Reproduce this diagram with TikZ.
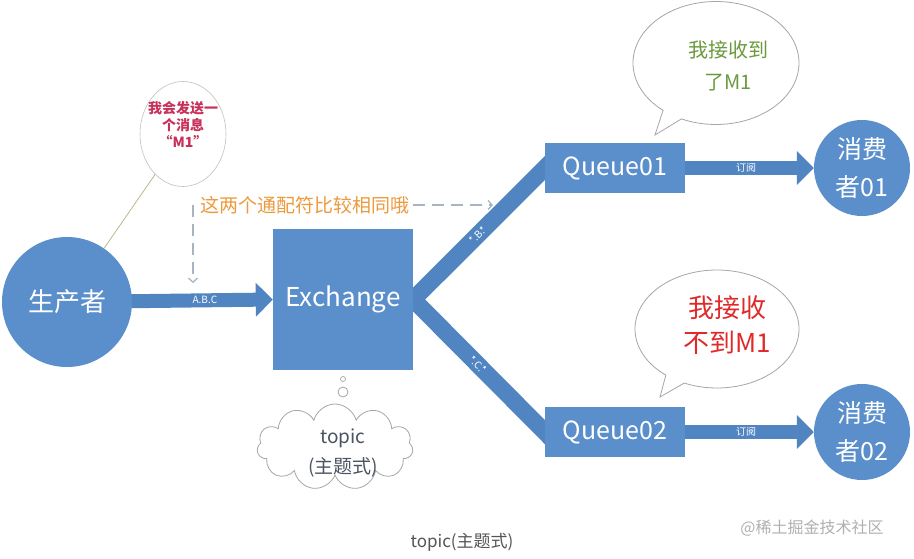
\documentclass[tikz,border=0pt]{standalone}
\usepackage{fontspec}
\setmainfont{Noto Sans CJK SC}
\usetikzlibrary{shapes.geometric,shapes.callouts,shapes.symbols,arrows.meta}
\pgfdeclarelayer{bg}
\pgfsetlayers{bg,main}
\definecolor{mainblue}{HTML}{5A8FCB}
\definecolor{arrowblue}{HTML}{5185C2}
\definecolor{hintorange}{HTML}{EC9A3E}
\definecolor{dashgray}{HTML}{A8B4C4}
\definecolor{bubblegray}{HTML}{A6A6A6}
\definecolor{tailolive}{HTML}{BDB88A}
\definecolor{calloutred}{HTML}{C8325A}
\definecolor{okgreen}{HTML}{6B9A3C}
\definecolor{nored}{HTML}{E02A2A}
\definecolor{cloudtext}{HTML}{4A5462}
\definecolor{captiongray}{HTML}{555555}
\definecolor{markgray}{HTML}{B0B0B0}
\newcommand\fsz[2]{\fontsize{#1}{#2}\selectfont}
\begin{document}
\begin{tikzpicture}[x=1pt,y=-1pt,
  bluebox/.style={rectangle, fill=mainblue, text=white, inner sep=0pt},
  bluedot/.style={circle, fill=mainblue, text=white, inner sep=0pt, align=center},
  fatarrow/.style={draw=arrowblue, line width=14pt, -{Triangle[length=17pt,width=33pt]}},
  forkline/.style={draw=arrowblue, line width=17pt, line join=miter, shorten <=-12pt, shorten >=-12pt},
  arrowlabel/.style={text=white, font=\fsz{10}{11}, inner sep=0pt},
  dashline/.style={draw=dashgray, line width=1.3pt, dash pattern=on 12pt off 7pt, -{Straight Barb[length=4pt,width=9pt]}},
  bubble/.style={ellipse callout, draw=bubblegray, fill=white, line width=0.8pt},
  ]
\begin{pgfonlayer}{bg}
\fill[white] (0,0) rectangle (914,558);
\end{pgfonlayer}
\useasboundingbox (0,0) rectangle (914,558);

% main nodes
\node[bluedot, minimum size=130, font=\fsz{26}{30}] (prod) at (67,302) {生产者};
\node[bluebox, minimum width=140, minimum height=141, font=\fsz{26}{30}] (exch) at (343,299.5) {Exchange};
\node[bluebox, minimum width=140, minimum height=50, font=\fsz{25}{28}] (q1) at (615,168) {Queue01};
\node[bluebox, minimum width=140, minimum height=50, font=\fsz{25}{28}] (q2) at (615,432) {Queue02};
\node[bluedot, minimum size=96, font=\fsz{25}{38}] (c1) at (862,168) {消费\\者01};
\node[bluedot, minimum size=96, font=\fsz{25}{38}] (c2) at (862,432) {消费\\者02};

% connectors
\begin{pgfonlayer}{bg}
\draw[fatarrow] (prod.center) -- node[arrowlabel, pos=0.67]{A.B.C} (exch.west);
\draw[forkline] (q1.west) -- node[arrowlabel, sloped, pos=0.51]{*.B.*} (exch.east)
  -- node[arrowlabel, sloped, pos=0.49]{*.C.*} (q2.west);
\draw[fatarrow] (q1.center) -- node[arrowlabel, pos=0.66]{订阅} (c1);
\draw[fatarrow] (q2.center) -- node[arrowlabel, pos=0.66]{订阅} (c2);
\end{pgfonlayer}

% producer callout
\node[ellipse, draw=bubblegray!70, fill=white, minimum width=86, minimum height=105, line width=0.6pt] (callA) at (183,134) {};
\node[text=calloutred, font=\fsz{14}{17}\bfseries, align=center] (callAtext) at (183,124) {我会发送一\\个消息\\“M1”};
\draw[tailolive, line width=0.8pt] (callA) -- (prod);

% hint with dashed arrows
\node[text=hintorange, font=\fsz{19}{22}, inner sep=0pt] (hint) at (305,205) {这两个通配符比较相同哦};
\coordinate (hintdown) at (193,283);
\coordinate (hintright) at (493,205);
\draw[dashline] (hint.west -| hintdown) -- (hintdown);
\draw[dashline] ([xshift=3pt]hint.east) -- (hintright);

% speech bubbles
\node[bubble, minimum width=166, minimum height=123, callout absolute pointer={(655,135)}] (b1) at (716,63) {};
\node[text=okgreen, font=\fsz{20}{32}, align=center] (b1t) at (728,66) {我接收到\\了M1};
\node[bubble, minimum width=164, minimum height=118, callout absolute pointer={(660,397)}] (b2) at (717,329) {};
\node[text=nored, font=\fsz{26}{35}, align=center] (b2t) at (727,325) {我接收\\不到M1};

% cloud
\node[circle, draw=bubblegray, fill=white, minimum size=10, inner sep=0pt, line width=0.8pt] (th1) at (343,392) {};
\node[circle, draw=bubblegray, fill=white, minimum size=5, inner sep=0pt, line width=0.7pt] (th2) at (343,379) {};
\node[cloud, cloud puffs=11, aspect=1.85, draw=bubblegray, fill=white, line width=0.8pt, minimum width=156, minimum height=86, inner sep=0pt] (cloud) at (335,447) {};
\node[text=cloudtext, font=\fsz{19}{30}, align=center] (cloudt) at (343,453) {topic\\(主题式)};

% caption and watermark
\node[text=captiongray, font=\fsz{17}{20}] (cap) at (462,542) {topic(主题式)};
\node[text=markgray, font=\fsz{16}{20}] (mark) at (812,528) {@稀土掘金技术社区};
\end{tikzpicture}
\end{document}
